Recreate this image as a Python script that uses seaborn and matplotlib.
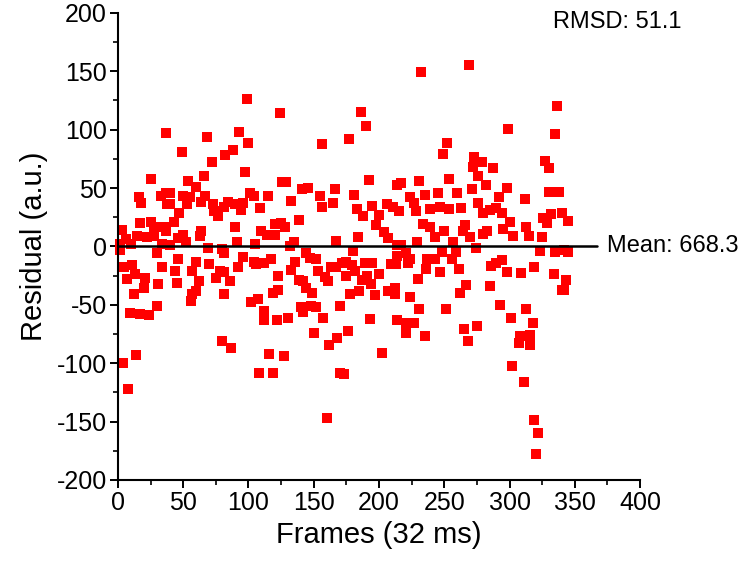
import matplotlib
matplotlib.use("Agg")
import matplotlib.pyplot as plt
import seaborn as sns
from matplotlib.ticker import MultipleLocator

# residuals per frame
frames = [
    37, 25, 16, 18, 33, 37, 38, 3, 17, 25, 28, 35, 6, 2, 15, 22, 28, 34, 10, 2,
    30, 5, 11, 13, 34, 7, 21, 20, 31, 12, 30, 9, 17, 24, 14, 4, 8,
    68, 49, 82, 72, 54, 66, 60, 40, 50, 55, 40, 53, 67, 64, 73, 74, 77, 47, 43,
    37, 50, 64, 63, 46, 52, 40, 69, 80, 81, 46, 60, 70, 44, 57, 78, 75, 62, 45,
    60, 57, 56, 81, 80,
    99, 124, 93, 100, 88, 97, 126, 101, 104, 115, 84, 90, 96, 94, 81, 109, 90,
    120, 125, 110, 114, 120, 91, 105, 96, 117, 104, 106, 112, 92, 81, 123, 86,
    123, 119, 107, 102, 112, 112, 122, 87, 116, 108, 119, 127,
    156, 129, 141, 146, 166, 133, 155, 156, 165, 139, 128, 135, 132, 167, 144,
    147, 152, 136, 163, 167, 133, 153, 159, 161, 139, 142, 144, 149, 140, 148,
    152, 142, 170, 130, 157, 150, 162, 168, 170, 160,
    186, 190, 177, 192, 181, 214, 183, 188, 195, 206, 211, 200, 198, 204, 207,
    184, 180, 214, 172, 175, 179, 189, 195, 209, 175, 182, 191, 200, 187, 194,
    178, 185, 197, 207, 212, 193, 214, 176, 202, 173,
    232, 252, 249, 217, 231, 254, 224, 235, 245, 215, 227, 228, 239, 247, 254,
    234, 239, 243, 250, 229, 217, 257, 248, 221, 214, 224, 237, 243, 256, 213,
    222, 236, 247, 230, 212, 224, 231, 251, 221, 227, 221, 235,
    269, 299, 273, 279, 272, 287, 276, 282, 260, 271, 298, 292, 263, 276, 280,
    285, 290, 294, 300, 266, 264, 283, 280, 295, 270, 274, 259, 261, 294, 290,
    286, 298, 267, 262, 285, 293, 301, 265, 275, 268, 302,
    336, 335, 327, 330, 312, 330, 338, 303, 313, 315, 325, 326, 329, 332, 340,
    345, 323, 335, 342, 345, 309, 319, 334, 343, 340, 342, 313, 318, 308, 316,
    307, 316, 311, 319, 322, 320,
]
residual = [
    97, 58, 42, 37, 43, 46, 36, 14, 20, 21, 17, 17, 6, 2, 9, 8, 9, 2, 2, -3,
    -6, -18, -16, -24, -18, -28, -27, -36, -32, -41, -51, -57, -58, -59, -93, -100, -122,
    94, 81, 78, 72, 56, 60, 51, 46, 43, 42, 36, 36, 43, 38, 36, 30, 26, 29, 21,
    13, 10, 13, 9, 7, 4, 1, -1, -2, -6, -11, -13, -15, -21, -21, -21, -27, -30, -31,
    -38, -41, -47, -41, -81,
    126, 114, 98, 89, 83, 64, 55, 46, 43, 43, 38, 36, 37, 31, 34, 33, 17,
    19, 20, 13, 10, 10, 4, 2, -9, -11, -13, -15, -14, -18, -22, -25, -30,
    -37, -40, -45, -48, -55, -63, -63, -87, -92, -108, -108, -94,
    88, 55, 49, 50, 49, 39, 43, 34, 37, 23, 17, 4, 0, 5, -6,
    -10, -11, -13, -18, -18, -20, -21, -26, -30, -29, -30, -36, -40, -52, -51,
    -52, -56, -51, -61, -61, -74, -84, -78, -108, -147,
    115, 103, 92, 57, 44, 53, 32, 26, 35, 36, 34, 27, 18, 12, 7,
    8, -4, 1, -14, -13, -16, -14, -14, -15, -25, -21, -25, -24, -29, -32,
    -41, -38, -42, -38, -41, -62, -63, -72, -91, -109,
    149, 89, 79, 54, 56, 58, 42, 44, 46, 30, 37, 30, 32, 34, 32,
    19, 17, 8, 13, 4, 1, 4, -5, -6, -8, -11, -11, -11, -11, -15,
    -14, -19, -22, -28, -36, -43, -54, -54, -66, -66, -74, -77,
    155, 101, 77, 72, 68, 67, 60, 53, 46, 49, 50, 42, 33, 37, 29,
    31, 33, 29, 21, 18, 13, 13, 11, 15, 8, -1, -5, -19, -12, -14,
    -17, -22, -33, -40, -34, -50, -61, -71, -68, -81, -102,
    120, 96, 73, 67, 41, 47, 47, 9, 17, 9, 8, 24, 20, 28, 29,
    22, -4, -5, -3, -5, -23, -18, -24, -29, -37, -37, -54, -66, -77, -76,
    -83, -84, -116, -149, -160, -178,
]
mean_value = 668.3
rmsd = 51.1
mean_line_end = 367

sns.set_style("ticks")
plt.rcParams['font.family'] = ['Liberation Sans', 'DejaVu Sans']
plt.rcParams['axes.unicode_minus'] = False
plt.rcParams['text.color'] = 'black'
plt.rcParams['axes.labelcolor'] = 'black'
plt.rcParams['xtick.color'] = 'black'
plt.rcParams['ytick.color'] = 'black'

fig = plt.figure(figsize=(7.46, 5.62), dpi=100)
ax = fig.add_axes([0.158, 0.146, 0.700, 0.831])

sns.scatterplot(x=frames, y=residual, marker='s', color='#ff0000', s=58,
                linewidth=0, ax=ax, zorder=2, clip_on=False)
ax.plot([0, mean_line_end], [0, 0], color='black', lw=1.8, zorder=3)

ax.set_xlim(0, 400)
ax.set_ylim(-200, 200)
ax.xaxis.set_major_locator(MultipleLocator(50))
ax.xaxis.set_minor_locator(MultipleLocator(25))
ax.yaxis.set_major_locator(MultipleLocator(50))
ax.yaxis.set_minor_locator(MultipleLocator(25))

for side in ['top', 'right']:
    ax.spines[side].set_visible(False)
for side in ['left', 'bottom']:
    ax.spines[side].set_linewidth(1.5)
    ax.spines[side].set_color('black')

ax.tick_params(which='major', direction='out', length=6, width=1.4,
               labelsize=18, pad=2, colors='black')
ax.tick_params(which='minor', direction='out', length=3.5, width=1.2, colors='black')

ax.set_xlabel("Frames (32 ms)", fontsize=21, labelpad=4, color='black')
ax.set_ylabel("Residual (a.u.)", fontsize=21, labelpad=6, color='black')

ax.text(333, 192, f"RMSD: {rmsd}", fontsize=17, va='center', ha='left', color='black')
ax.text(375, 0, f"Mean: {mean_value}", fontsize=17, va='center', ha='left',
        color='black', clip_on=False)

fig.savefig("out.png", dpi=100)
